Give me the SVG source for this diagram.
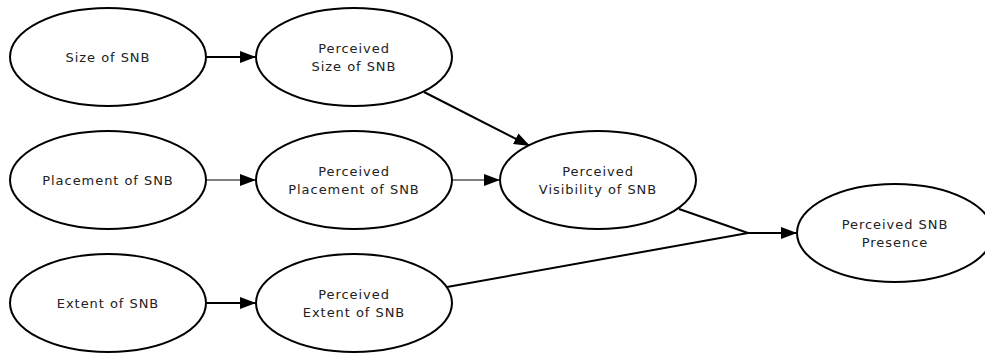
<svg xmlns="http://www.w3.org/2000/svg" width="985" height="353" viewBox="0 0 985 353">
  <style>
    .node ellipse { fill: #ffffff; stroke: #000000; stroke-width: 2; }
    .node text { font-family: "DejaVu Sans", sans-serif; font-size: 13px; fill: #222222; text-anchor: middle; letter-spacing: 0.95px; }
    .edge { fill: none; stroke: #000000; stroke-width: 2; }
    .edge.thin { stroke-width: 1.2; }
  </style>
  <defs>
    <marker id="arrow" viewBox="0 0 16 12" refX="16" refY="6" markerWidth="16" markerHeight="12" markerUnits="userSpaceOnUse" orient="auto">
      <path d="M0,0 L16,6 L0,12 Z" fill="#000000"/>
    </marker>
  </defs>
  <rect width="985" height="353" fill="#ffffff"/>

  <g id="connectors">
    <line class="edge" x1="206" y1="57" x2="256" y2="57" marker-end="url(#arrow)"/>
    <line class="edge thin" x1="206" y1="180" x2="256" y2="180" marker-end="url(#arrow)"/>
    <line class="edge" x1="206" y1="303" x2="256" y2="303" marker-end="url(#arrow)"/>
    <line class="edge" x1="424" y1="92" x2="530" y2="146" marker-end="url(#arrow)"/>
    <line class="edge thin" x1="452" y1="180" x2="500" y2="180" marker-end="url(#arrow)"/>
    <line class="edge" x1="679" y1="209" x2="748" y2="233"/>
    <line class="edge" x1="447" y1="287" x2="748" y2="233"/>
    <line class="edge" x1="748" y1="233" x2="797" y2="233" marker-end="url(#arrow)"/>
  </g>

  <g id="size" class="node">
    <ellipse cx="108" cy="57" rx="98" ry="49"/>
    <text x="108" y="62">Size of SNB</text>
  </g>
  <g id="perceived-size" class="node">
    <ellipse cx="354" cy="57" rx="98" ry="49"/>
    <text x="354" y="53">Perceived</text>
    <text x="354" y="71">Size of SNB</text>
  </g>
  <g id="placement" class="node">
    <ellipse cx="108" cy="180" rx="98" ry="49"/>
    <text x="108" y="185">Placement of SNB</text>
  </g>
  <g id="perceived-placement" class="node">
    <ellipse cx="354" cy="180" rx="98" ry="49"/>
    <text x="354" y="176">Perceived</text>
    <text x="354" y="194">Placement of SNB</text>
  </g>
  <g id="extent" class="node">
    <ellipse cx="108" cy="303" rx="98" ry="49"/>
    <text x="108" y="308">Extent of SNB</text>
  </g>
  <g id="perceived-extent" class="node">
    <ellipse cx="354" cy="303" rx="98" ry="49"/>
    <text x="354" y="299">Perceived</text>
    <text x="354" y="317">Extent of SNB</text>
  </g>
  <g id="perceived-visibility" class="node">
    <ellipse cx="598" cy="180" rx="98" ry="49"/>
    <text x="598" y="176">Perceived</text>
    <text x="598" y="194">Visibility of SNB</text>
  </g>
  <g id="perceived-presence" class="node">
    <ellipse cx="895" cy="233" rx="98" ry="49"/>
    <text x="895" y="229">Perceived SNB</text>
    <text x="895" y="247">Presence</text>
  </g>
</svg>
